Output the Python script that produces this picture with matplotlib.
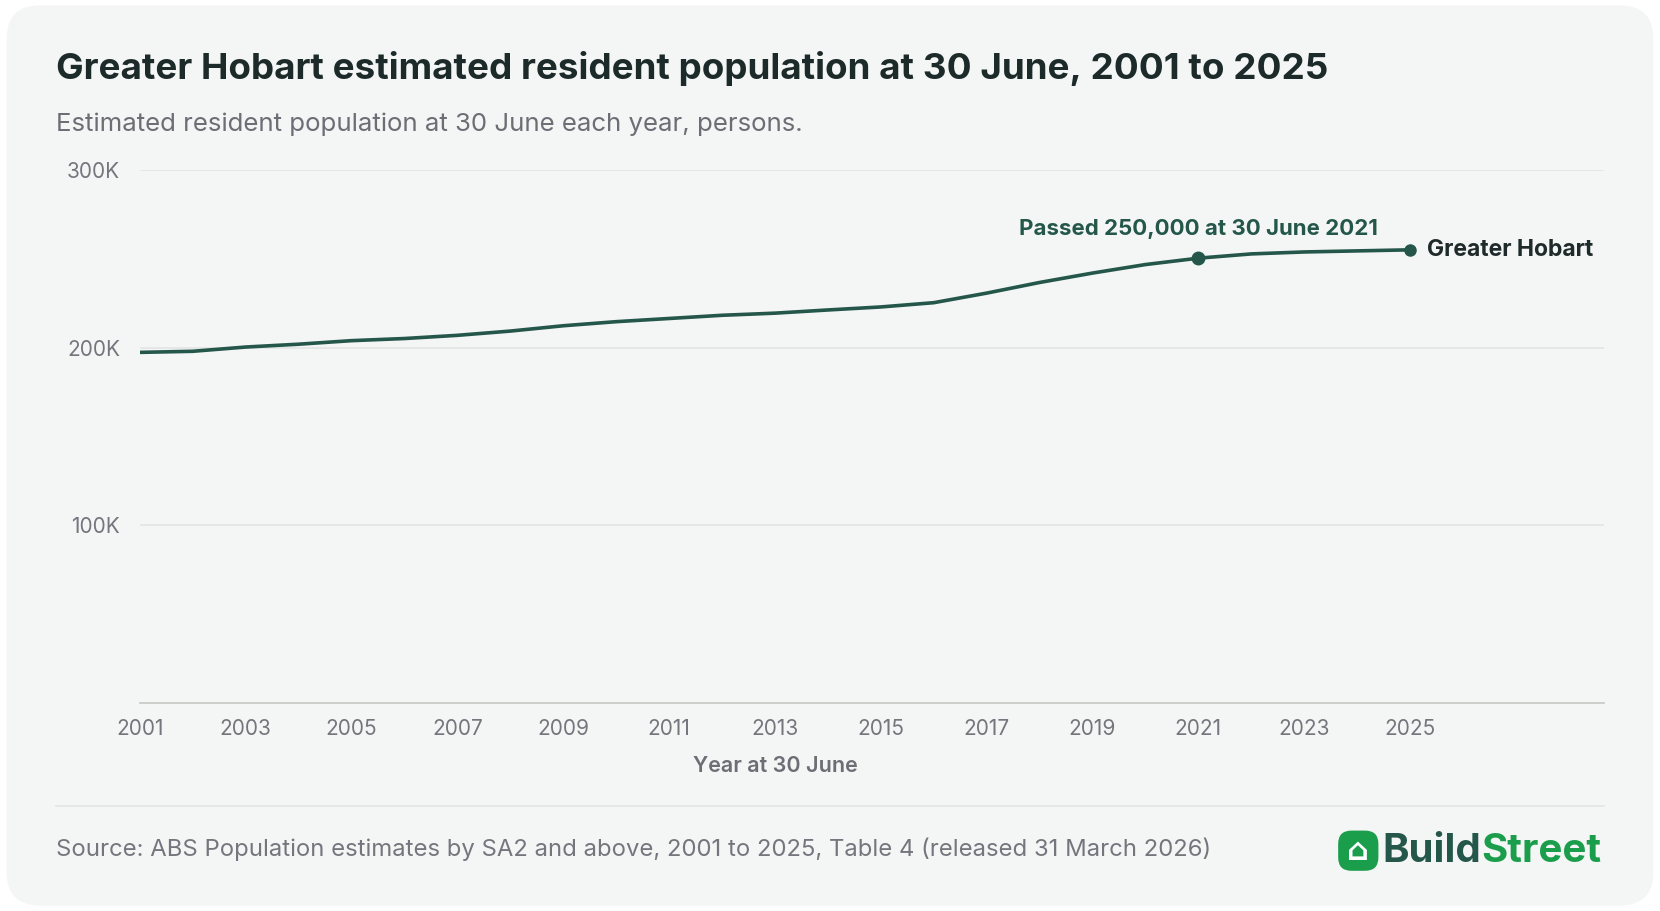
import matplotlib.pyplot as plt
from matplotlib.patches import FancyBboxPatch

plt.rcParams['font.family'] = ['Inter', 'DejaVu Sans']

years = list(range(2001, 2026))
population = [197400, 198000, 200400, 202000, 204000, 205200, 207000, 209400,
              212400, 214700, 216500, 218300, 219500, 221300, 223000, 225400,
              230800, 236800, 242100, 246900, 250500, 252900, 254000, 254600,
              255200]
yticks = [100000, 200000, 300000]
ytick_labels = ['100K', '200K', '300K']
xticks = list(range(2001, 2026, 2))

W, H = 1568, 861
fig = plt.figure(figsize=(16.6, 9.11), dpi=100)
fig.patch.set_facecolor('white')
card = FancyBboxPatch((0.004, 0.006), 0.992, 0.988, boxstyle='round,pad=0,rounding_size=0.02',
                      transform=fig.transFigure, facecolor='#f4f5f5', edgecolor='none',
                      mutation_aspect=1660 / 911, zorder=-10)
fig.patches.append(card)

ax = fig.add_axes([132 / W, 1 - 664 / H, (1515 - 132) / W, (664 - 161) / H])
ax.set_facecolor('none')
ax.set_zorder(2)
line_c = '#24574a'
ax.plot(years, population, color=line_c, lw=2.6, solid_capstyle='round')
ax.set_xlim(2001, 2001 + (1515 - 132) / 50)
ax.set_ylim(0, 300000)
ax.set_yticks(yticks)
ax.set_yticklabels(ytick_labels)
ax.set_xticks(xticks)
ax.grid(axis='y', color='#e2e3e3', lw=1.2)
for s in ['top', 'right', 'left']:
    ax.spines[s].set_visible(False)
ax.spines['bottom'].set_color('#c9cbc7')
ax.spines['bottom'].set_linewidth(1.3)
ax.tick_params(axis='both', length=0, labelsize=15, labelcolor='#73777d')
ax.tick_params(axis='x', pad=12)
ax.tick_params(axis='y', pad=14)
ax.set_xlabel('Year at 30 June', fontsize=15.5, color='#6b6f75', fontweight='semibold')
ax.xaxis.set_label_coords((732 - 132) / (1515 - 132), -0.1)

i21 = years.index(2021)
ax.plot(years[i21], population[i21], 'o', color=line_c, ms=9, zorder=5)
ax.plot(years[-1], population[-1], 'o', color=line_c, ms=8, zorder=5)
ax.annotate('Passed 250,000 at 30 June 2021', (years[i21], population[i21]),
            xytext=(0, 14), textcoords='offset points', ha='center', va='bottom',
            fontsize=16, fontweight='bold', color=line_c)
ax.annotate('Greater Hobart', (years[-1], population[-1]), xytext=(12, 0),
            textcoords='offset points', ha='left', va='center',
            fontsize=16.5, fontweight='bold', color='#1f2a2a')

fig.text(53 / W, 1 - 65 / H, 'Greater Hobart estimated resident population at 30 June, 2001 to 2025',
         fontsize=26.5, fontweight='bold', color='#1d2a2a', va='center')
fig.text(53 / W, 1 - 117 / H, 'Estimated resident population at 30 June each year, persons.',
         fontsize=18.6, color='#6b6f75', va='center')
fig.add_artist(plt.Line2D([53 / W, 1515 / W], [1 - 762 / H] * 2, transform=fig.transFigure,
                          color='#e2e3e3', lw=1.2))
fig.text(53 / W, 1 - 803 / H,
         'Source: ABS Population estimates by SA2 and above, 2001 to 2025, Table 4 (released 31 March 2026)',
         fontsize=17.2, color='#73777d', va='center')

# logo
logo = FancyBboxPatch((1264 / W, 1 - 823 / H), 38 / W, 38 / H,
                      boxstyle='round,pad=0,rounding_size=0.008', transform=fig.transFigure,
                      facecolor='#1a9e4b', edgecolor='none', mutation_aspect=1660 / 911)
fig.patches.append(logo)
fig.text(1283 / W, 1 - 805 / H, '⌂', fontsize=22, color='white', ha='center', va='center',
         fontweight='bold', family=['DejaVu Sans'])
t = fig.text(1306 / W, 1 - 805 / H, 'Build', fontsize=29, fontweight='bold', color='#24574a',
             va='center')
fig.canvas.draw()
bb = t.get_window_extent()
fig.text(bb.x1 / fig.bbox.width, 1 - 805 / H, 'Street', fontsize=29, fontweight='bold',
         color='#1a9e4b', va='center')

fig.savefig('out.png', dpi=100, facecolor='white')
